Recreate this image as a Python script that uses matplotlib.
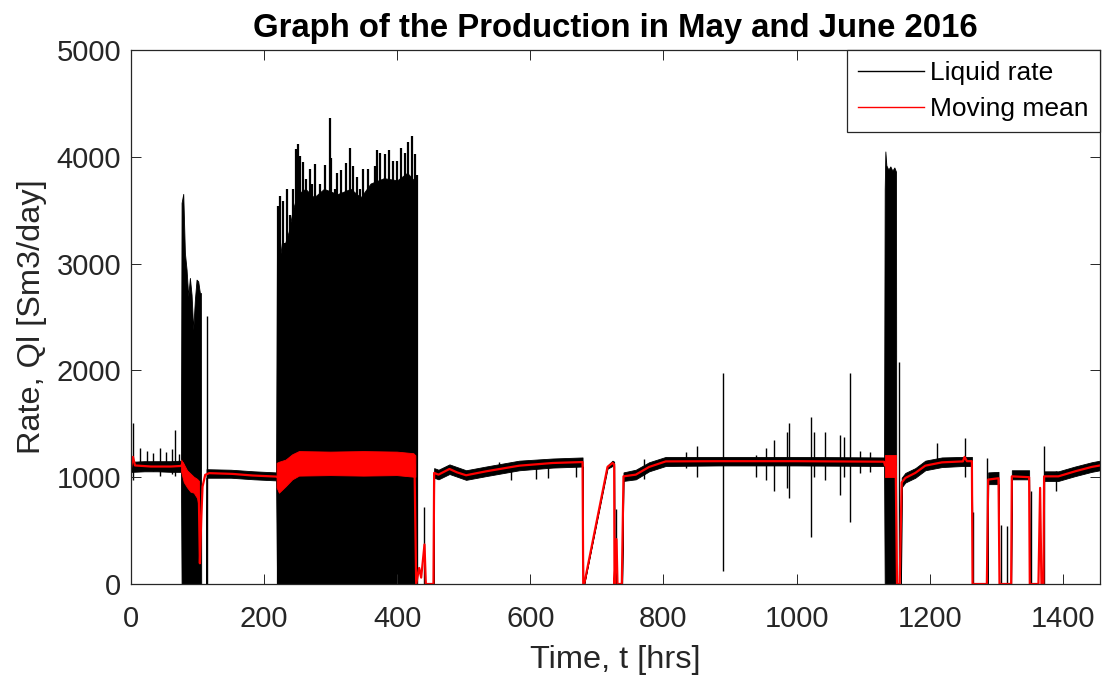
import numpy as np
import matplotlib
matplotlib.use("Agg")
import matplotlib.pyplot as plt
from matplotlib.lines import Line2D

plt.rcParams['font.family'] = ['Liberation Sans', 'DejaVu Sans']

# Liquid rate, hourly data summarised as a lower / upper envelope [Sm3/day]
liq_t = [0, 2, 20, 40, 60, 75,
         76, 78.5, 81, 83.5, 86, 88.5, 91, 93.5, 96, 98.5, 101, 103.5, 105, 105.5, 113,
         113.5, 150, 185, 218,
         219.5, 222, 226, 232, 237, 243, 250, 262, 275, 290, 310, 330, 345, 360,
         380, 400, 415, 429.5, 430, 455,
         455.5, 462, 478.5, 503.5, 533.5, 583.5, 633.5, 678.5, 679.5, 681,
         716, 723.5, 726, 726.5, 738,
         740, 758.5, 778.5, 803.5, 883.5, 1000, 1131.5,
         1132.5, 1133.5, 1135, 1138, 1141, 1144, 1147, 1149.5, 1150, 1157,
         1158, 1163.5, 1178.5, 1193.5, 1218.5, 1250, 1263.5, 1264.5, 1287,
         1288, 1303.5, 1304.5, 1322.5, 1323.5, 1349.5, 1350.5, 1371,
         1372, 1393.5, 1418.5, 1443.5, 1456]
liq_lo = [1050, 1050, 1055, 1055, 1050, 1050,
          0, 0, 0, 0, 0, 0, 0, 0, 0, 0, 0, 0, 0, 0, 0,
          995, 995, 980, 970,
          0, 0, 0, 0, 0, 0, 0, 0, 0, 0, 0, 0, 0, 0,
          0, 0, 0, 0, 0, 0,
          995, 980, 1030, 975, 1010, 1065, 1090, 1100, 0, 0,
          1080, 1105, 1105, 0, 0,
          965, 980, 1055, 1105, 1110, 1110, 1105,
          0, 0, 0, 0, 0, 0, 0, 0, 0, 0,
          905, 950, 995, 1065, 1095, 1105, 1105, 0, 0,
          935, 935, 0, 0, 980, 980, 0, 0,
          965, 965, 1010, 1050, 1065]
liq_hi = [1145, 1145, 1150, 1150, 1150, 1155,
          3569, 3653, 3100, 2944, 2694, 2866, 2709, 2381, 2662, 2850, 2834, 2725, 2725, 0, 0,
          1075, 1070, 1055, 1045,
          3450, 3300, 3100, 3200, 3300, 3500, 3650, 3700, 3620, 3700, 3650, 3700, 3620, 3750,
          3800, 3780, 3850, 3750, 0, 0,
          1085, 1070, 1120, 1065, 1100, 1155, 1175, 1185, 0, 0,
          1110, 1155, 1145, 0, 0,
          1045, 1070, 1140, 1190, 1190, 1190, 1185,
          3700, 4050, 3920, 3880, 3910, 3870, 3900, 3860, 0, 0,
          995, 1040, 1085, 1155, 1185, 1190, 1190, 0, 0,
          1045, 1050, 0, 0, 1065, 1065, 0, 0,
          1055, 1055, 1100, 1140, 1155]

# oscillation peaks between 220 and 430 hrs
burst_t = [221, 224.5, 228.5, 231, 235, 238.5, 243.5, 247.5, 251, 254.5, 258.5,
           263.5, 269.5, 272.5, 277, 283.5, 291, 298.5, 301, 306, 309.5, 316, 322.5,
           328.5, 333.5, 339.5, 343.5, 348.5, 356, 360, 366, 369.5, 374.5, 381, 387.5,
           393.5, 399.5, 406, 411, 416, 422.5, 426, 429.5]
burst_top = [3537, 3631, 3584, 3197, 3703, 3459, 3694, 4069, 4122, 4006, 3950,
             3788, 3888, 3741, 3935, 3741, 3919, 4366, 3991, 3694, 3850, 3872, 3944,
             4085, 3912, 3813, 3694, 3888, 3888, 3668, 3912, 4062, 4038, 4022, 4062,
             3959, 3959, 4085, 4038, 4137, 4194, 4022, 3834]

# single readings that stand out of the band
spike_t = [3, 14, 24, 33, 44, 53, 62, 66, 72, 113.5, 441,
           553.5, 571, 608.5, 626, 668.5, 729.5,
           771, 834.5, 851, 889.5, 938.5, 953.5, 966, 986, 988.5, 1022.5, 1027,
           1043.5, 1065, 1071, 1081, 1095, 1110, 1154.5, 1210.5, 1252.5,
           1265, 1286, 1307, 1316, 1353, 1372, 1390]
spike_lo = [975, 1080, 1080, 1060, 1010, 1070, 1030, 1010, 1060, 0, 0,
            1040, 975, 981, 994, 1006, 0,
            981, 1085, 1006, 125, 1006, 975, 875, 900, 803, 438, 1000,
            975, 838, 1000, 584, 1040, 1050, 0, 1100, 1005,
            0, 0, 0, 0, 0, 0, 870]
spike_hi = [1506, 1271, 1250, 1230, 1271, 1240, 1260, 1443, 1220, 2514, 717,
            1140, 1100, 1131, 1131, 1162, 698,
            1175, 1240, 1294, 1980, 1209, 1272, 1350, 1420, 1506, 1564, 1420,
            1427, 1397, 1380, 1978, 1250, 1240, 2083, 1324, 1365,
            677, 1178, 553, 540, 869, 1288, 1060]

# moving mean of the liquid rate
mean_t = [0, 3, 6, 30, 60, 75,
          78, 81, 86, 91, 96, 99.5, 102, 103.5, 105.5, 107.5, 111.5, 117.5, 152.5, 182.5, 218,
          221, 224, 232, 242, 252, 300, 350, 400, 426,
          428.5, 433, 436, 441, 443, 454.5,
          455.5, 462, 478.5, 490, 503.5, 533.5, 583.5, 633.5, 678.5, 679.5, 681,
          716, 723.5, 726, 726.5, 729.5, 731, 737.5,
          740, 758.5, 778.5, 803.5, 883.5, 1000, 1131.5,
          1133, 1149, 1151, 1155, 1158, 1163.5, 1178.5, 1193.5, 1218.5, 1250, 1252.5,
          1256, 1263.5, 1264.5, 1286, 1288, 1303.5, 1305, 1322.5, 1323.5, 1349.5,
          1350.5, 1363.5, 1366, 1368, 1371, 1372, 1393.5, 1418.5, 1443.5, 1456]
mean_q = [1090, 1190, 1110, 1100, 1100, 1105,
          1130, 1040, 980, 940, 930, 890, 800, 194, 600, 912, 1022, 1038, 1031, 1016, 1006,
          1000, 950, 1030, 1090, 1130, 1135, 1135, 1135, 1120,
          0, 150, 60, 370, 0, 0,
          1040, 1024, 1077, 1045, 1018, 1055, 1108, 1133, 1142, 0, 0,
          1096, 1133, 1120, 0, 420, 0, 0,
          1008, 1024, 1096, 1148, 1150, 1150, 1145,
          1110, 1100, 0, 0, 950, 993, 1040, 1108, 1139, 1148, 1190,
          1150, 1150, 0, 0, 978, 990, 0, 0, 1008, 1000,
          0, 0, 900, 0, 0, 1008, 1008, 1055, 1096, 1110]

# spread of the moving mean where the rate oscillates fast
band_t = [76, 80, 85, 90, 95, 100, 103, np.nan,
          219.5, 223, 228, 233, 243, 253, 300, 350, 400, 425, 428, np.nan,
          1132.5, 1149.5]
band_lo = [1050, 950, 900, 860, 850, 800, 700, np.nan,
           900, 850, 880, 910, 975, 1010, 1015, 1010, 1015, 1000, 1000, np.nan,
           1005, 1005]
band_hi = [1160, 1120, 1060, 1030, 1000, 980, 960, np.nan,
           1130, 1140, 1150, 1160, 1210, 1240, 1235, 1240, 1235, 1220, 1200, np.nan,
           1209, 1209]

axis_col = '#262626'

fig = plt.figure(figsize=(11.03, 6.81), dpi=100)
ax = fig.add_axes([131 / 1103, 1 - 584 / 681, 969 / 1103, 534 / 681])

ax.fill_between(liq_t, liq_lo, liq_hi, facecolor='black', edgecolor='black',
                linewidth=0.6, zorder=1)
ax.vlines(burst_t, 0, burst_top, color='black', linewidth=1.6, zorder=1)
ax.vlines(spike_t, spike_lo, spike_hi, color='black', linewidth=1.0, zorder=1)
ax.fill_between(band_t, band_lo, band_hi, facecolor='red', edgecolor='red',
                linewidth=0.6, zorder=3)
ax.plot(mean_t, mean_q, color='red', linewidth=1.6, zorder=4)

ax.set_xlim(0, 1456)
ax.set_ylim(0, 5000)
ax.set_xticks(np.arange(0, 1401, 200))
ax.set_yticks(np.arange(0, 5001, 1000))
ax.tick_params(direction='in', length=7, width=0.7, colors=axis_col,
               labelsize=21, top=True, right=True)
ax.tick_params(axis='x', pad=15)
ax.tick_params(axis='y', pad=7)
for sp in ax.spines.values():
    sp.set_color(axis_col)
    sp.set_linewidth(0.9)
    sp.set_zorder(5)

ax.set_title('Graph of the Production in May and June 2016',
             fontsize=23.7, fontweight='bold', pad=9)
ax.set_xlabel('Time, t [hrs]', fontsize=23.4, color=axis_col, labelpad=9)
ax.set_ylabel('Rate, Ql [Sm3/day]', fontsize=23.4, color=axis_col, labelpad=7)

handles = [Line2D([], [], color='black', linewidth=1.0),
           Line2D([], [], color='red', linewidth=1.0)]
leg = ax.legend(handles, ['Liquid rate', 'Moving mean'], loc='upper right',
                bbox_to_anchor=(1, 1), borderaxespad=0, fontsize=19,
                fancybox=False, framealpha=1, edgecolor=axis_col,
                handlelength=2.5, handletextpad=0.25, labelspacing=0.45,
                borderpad=0.42)
leg.get_frame().set_linewidth(0.9)
leg.set_zorder(6)

fig.savefig('out.png', dpi=100)
